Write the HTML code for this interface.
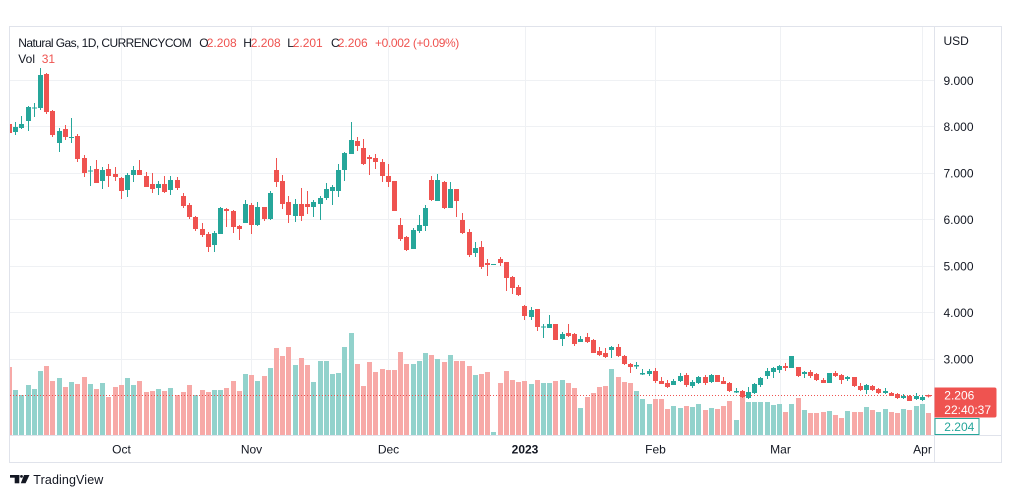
<!DOCTYPE html>
<html><head><meta charset="utf-8"><style>
html,body{margin:0;padding:0;background:#fff;width:1012px;height:498px;overflow:hidden}
svg{display:block}
text{font-family:"Liberation Sans",sans-serif}
</style></head><body>
<svg width="1012" height="498" viewBox="0 0 1012 498" xmlns="http://www.w3.org/2000/svg">
<defs><clipPath id="cp"><rect x="10" y="27" width="924" height="408"/></clipPath></defs>
<rect x="0" y="0" width="1012" height="498" fill="#fff"/>
<g stroke="#eff1f4" stroke-width="1">
<line x1="121.5" y1="27" x2="121.5" y2="435"/><line x1="251.5" y1="27" x2="251.5" y2="435"/><line x1="388.5" y1="27" x2="388.5" y2="435"/><line x1="525.5" y1="27" x2="525.5" y2="435"/><line x1="655.5" y1="27" x2="655.5" y2="435"/><line x1="780.5" y1="27" x2="780.5" y2="435"/><line x1="922.5" y1="27" x2="922.5" y2="435"/>
<line x1="10" y1="80.5" x2="934" y2="80.5"/><line x1="10" y1="126.5" x2="934" y2="126.5"/><line x1="10" y1="173.5" x2="934" y2="173.5"/><line x1="10" y1="219.5" x2="934" y2="219.5"/><line x1="10" y1="266.5" x2="934" y2="266.5"/><line x1="10" y1="312.5" x2="934" y2="312.5"/><line x1="10" y1="359.5" x2="934" y2="359.5"/>
</g>
<g clip-path="url(#cp)">
<g fill="#92d2cc">
<rect x="13" y="390" width="5" height="45"/><rect x="19" y="395" width="5" height="40"/><rect x="26" y="385" width="5" height="50"/><rect x="32" y="389" width="5" height="46"/><rect x="38" y="371" width="5" height="64"/><rect x="57" y="378" width="5" height="57"/><rect x="69" y="382" width="5" height="53"/><rect x="88" y="384" width="5" height="51"/><rect x="100" y="383" width="5" height="52"/><rect x="125" y="378" width="5" height="57"/><rect x="131" y="385" width="5" height="50"/><rect x="156" y="389" width="5" height="46"/><rect x="168" y="388" width="5" height="47"/><rect x="193" y="395" width="5" height="40"/><rect x="212" y="390" width="5" height="45"/><rect x="218" y="390" width="5" height="45"/><rect x="243" y="374" width="5" height="61"/><rect x="255" y="381" width="5" height="54"/><rect x="268" y="368" width="5" height="67"/><rect x="293" y="365" width="5" height="70"/><rect x="311" y="382" width="5" height="53"/><rect x="318" y="361" width="5" height="74"/><rect x="324" y="361" width="5" height="74"/><rect x="330" y="374" width="5" height="61"/><rect x="336" y="373" width="5" height="62"/><rect x="342" y="347" width="5" height="88"/><rect x="349" y="333" width="5" height="102"/><rect x="411" y="364" width="5" height="71"/><rect x="417" y="361" width="5" height="74"/><rect x="423" y="353" width="5" height="82"/><rect x="435" y="359" width="5" height="76"/><rect x="448" y="355" width="5" height="80"/><rect x="473" y="375" width="5" height="60"/><rect x="491" y="432" width="5" height="3"/><rect x="529" y="384" width="5" height="51"/><rect x="541" y="383" width="5" height="52"/><rect x="547" y="383" width="5" height="52"/><rect x="560" y="380" width="5" height="55"/><rect x="578" y="408" width="5" height="27"/><rect x="609" y="369" width="5" height="66"/><rect x="634" y="391" width="5" height="44"/><rect x="640" y="399" width="5" height="36"/><rect x="647" y="404" width="5" height="31"/><rect x="671" y="406" width="5" height="29"/><rect x="678" y="408" width="5" height="27"/><rect x="690" y="407" width="5" height="28"/><rect x="696" y="404" width="5" height="31"/><rect x="709" y="408" width="5" height="27"/><rect x="734" y="420" width="5" height="15"/><rect x="746" y="402" width="5" height="33"/><rect x="752" y="402" width="5" height="33"/><rect x="758" y="402" width="5" height="33"/><rect x="765" y="402" width="5" height="33"/><rect x="771" y="405" width="5" height="30"/><rect x="777" y="404" width="5" height="31"/><rect x="789" y="404" width="5" height="31"/><rect x="802" y="410" width="5" height="25"/><rect x="827" y="411" width="5" height="24"/><rect x="845" y="411" width="5" height="24"/><rect x="864" y="407" width="5" height="28"/><rect x="876" y="412" width="5" height="23"/><rect x="883" y="409" width="5" height="26"/><rect x="901" y="409" width="5" height="26"/><rect x="914" y="406" width="5" height="29"/><rect x="920" y="404" width="5" height="31"/>
</g>
<g fill="#f7a9a7">
<rect x="7" y="367" width="5" height="68"/><rect x="44" y="366" width="5" height="69"/><rect x="50" y="381" width="5" height="54"/><rect x="63" y="387" width="5" height="48"/><rect x="75" y="384" width="5" height="51"/><rect x="82" y="377" width="5" height="58"/><rect x="94" y="389" width="5" height="46"/><rect x="106" y="397" width="5" height="38"/><rect x="113" y="387" width="5" height="48"/><rect x="119" y="385" width="5" height="50"/><rect x="137" y="381" width="5" height="54"/><rect x="144" y="392" width="5" height="43"/><rect x="150" y="391" width="5" height="44"/><rect x="162" y="391" width="5" height="44"/><rect x="175" y="395" width="5" height="40"/><rect x="181" y="392" width="5" height="43"/><rect x="187" y="385" width="5" height="50"/><rect x="200" y="390" width="5" height="45"/><rect x="206" y="392" width="5" height="43"/><rect x="224" y="388" width="5" height="47"/><rect x="231" y="381" width="5" height="54"/><rect x="237" y="391" width="5" height="44"/><rect x="249" y="375" width="5" height="60"/><rect x="262" y="376" width="5" height="59"/><rect x="274" y="348" width="5" height="87"/><rect x="280" y="356" width="5" height="79"/><rect x="286" y="347" width="5" height="88"/><rect x="299" y="358" width="5" height="77"/><rect x="305" y="365" width="5" height="70"/><rect x="355" y="364" width="5" height="71"/><rect x="361" y="386" width="5" height="49"/><rect x="367" y="362" width="5" height="73"/><rect x="373" y="372" width="5" height="63"/><rect x="380" y="369" width="5" height="66"/><rect x="386" y="370" width="5" height="65"/><rect x="392" y="370" width="5" height="65"/><rect x="398" y="352" width="5" height="83"/><rect x="404" y="364" width="5" height="71"/><rect x="429" y="355" width="5" height="80"/><rect x="442" y="362" width="5" height="73"/><rect x="454" y="361" width="5" height="74"/><rect x="460" y="361" width="5" height="74"/><rect x="467" y="366" width="5" height="69"/><rect x="479" y="374" width="5" height="61"/><rect x="485" y="372" width="5" height="63"/><rect x="498" y="383" width="5" height="52"/><rect x="504" y="371" width="5" height="64"/><rect x="510" y="380" width="5" height="55"/><rect x="516" y="382" width="5" height="53"/><rect x="522" y="381" width="5" height="54"/><rect x="535" y="380" width="5" height="55"/><rect x="553" y="381" width="5" height="54"/><rect x="566" y="383" width="5" height="52"/><rect x="572" y="388" width="5" height="47"/><rect x="585" y="397" width="5" height="38"/><rect x="591" y="393" width="5" height="42"/><rect x="597" y="387" width="5" height="48"/><rect x="603" y="386" width="5" height="49"/><rect x="616" y="377" width="5" height="58"/><rect x="622" y="382" width="5" height="53"/><rect x="628" y="383" width="5" height="52"/><rect x="653" y="399" width="5" height="36"/><rect x="659" y="399" width="5" height="36"/><rect x="665" y="409" width="5" height="26"/><rect x="684" y="406" width="5" height="29"/><rect x="703" y="410" width="5" height="25"/><rect x="715" y="409" width="5" height="26"/><rect x="721" y="406" width="5" height="29"/><rect x="727" y="401" width="5" height="34"/><rect x="740" y="396" width="5" height="39"/><rect x="783" y="412" width="5" height="23"/><rect x="796" y="398" width="5" height="37"/><rect x="808" y="413" width="5" height="22"/><rect x="814" y="413" width="5" height="22"/><rect x="821" y="412" width="5" height="23"/><rect x="833" y="415" width="5" height="20"/><rect x="839" y="418" width="5" height="17"/><rect x="852" y="412" width="5" height="23"/><rect x="858" y="412" width="5" height="23"/><rect x="870" y="410" width="5" height="25"/><rect x="889" y="412" width="5" height="23"/><rect x="895" y="413" width="5" height="22"/><rect x="907" y="410" width="5" height="25"/><rect x="926" y="413" width="5" height="22"/>
</g>
<line x1="10" y1="395.5" x2="934" y2="395.5" stroke="#ef5350" stroke-width="1" stroke-dasharray="1 2"/>
<g fill="#26a69a">
<rect x="15" y="122" width="1" height="13"/><rect x="13" y="127" width="5" height="5"/>
<rect x="21" y="116" width="1" height="13"/><rect x="19" y="124" width="5" height="4"/>
<rect x="28" y="106" width="1" height="25"/><rect x="26" y="107" width="5" height="14"/>
<rect x="34" y="103" width="1" height="14"/><rect x="32" y="107.5" width="5" height="1"/>
<rect x="40" y="68" width="1" height="42"/><rect x="38" y="75" width="5" height="33"/>
<rect x="59" y="128" width="1" height="24"/><rect x="57" y="131" width="5" height="12"/>
<rect x="71" y="118" width="1" height="25"/><rect x="69" y="137" width="5" height="1"/>
<rect x="90" y="166" width="1" height="20"/><rect x="88" y="170.5" width="5" height="1"/>
<rect x="102" y="167" width="1" height="22"/><rect x="100" y="170" width="5" height="11"/>
<rect x="127" y="173" width="1" height="24"/><rect x="125" y="175" width="5" height="15"/>
<rect x="133" y="166" width="1" height="16"/><rect x="131" y="170" width="5" height="5"/>
<rect x="158" y="181" width="1" height="14"/><rect x="156" y="184" width="5" height="4"/>
<rect x="170" y="176" width="1" height="19"/><rect x="168" y="180" width="5" height="10"/>
<rect x="214" y="231" width="1" height="21"/><rect x="212" y="233" width="5" height="12"/>
<rect x="220" y="207" width="1" height="27"/><rect x="218" y="208" width="5" height="26"/>
<rect x="245" y="200" width="1" height="23"/><rect x="243" y="204" width="5" height="19"/>
<rect x="257" y="202" width="1" height="24"/><rect x="255" y="207" width="5" height="18"/>
<rect x="270" y="191" width="1" height="29"/><rect x="268" y="193" width="5" height="26"/>
<rect x="295" y="199" width="1" height="23"/><rect x="293" y="204" width="5" height="12"/>
<rect x="313" y="200" width="1" height="17"/><rect x="311" y="202" width="5" height="5"/>
<rect x="320" y="196" width="1" height="24"/><rect x="318" y="198" width="5" height="6"/>
<rect x="326" y="183" width="1" height="17"/><rect x="324" y="189" width="5" height="9"/>
<rect x="332" y="185" width="1" height="20"/><rect x="330" y="187" width="5" height="4"/>
<rect x="338" y="164" width="1" height="33"/><rect x="336" y="170" width="5" height="21"/>
<rect x="344" y="152" width="1" height="29"/><rect x="342" y="153" width="5" height="17"/>
<rect x="351" y="122" width="1" height="32"/><rect x="349" y="140" width="5" height="14"/>
<rect x="413" y="228" width="1" height="21"/><rect x="411" y="230" width="5" height="19"/>
<rect x="419" y="215" width="1" height="18"/><rect x="417" y="225" width="5" height="6"/>
<rect x="425" y="205" width="1" height="26"/><rect x="423" y="208" width="5" height="18"/>
<rect x="437" y="174" width="1" height="27"/><rect x="435" y="180" width="5" height="21"/>
<rect x="450" y="182" width="1" height="26"/><rect x="448" y="189" width="5" height="19"/>
<rect x="475" y="242" width="1" height="15"/><rect x="473" y="248" width="5" height="5"/>
<rect x="491" y="264" width="5" height="1"/>
<rect x="531" y="307" width="1" height="13"/><rect x="529" y="310" width="5" height="7"/>
<rect x="543" y="324" width="1" height="14"/><rect x="541" y="326.5" width="5" height="1"/>
<rect x="549" y="315" width="1" height="13"/><rect x="547" y="324" width="5" height="4"/>
<rect x="562" y="332" width="1" height="14"/><rect x="560" y="334" width="5" height="5"/>
<rect x="580" y="336" width="1" height="6"/><rect x="578" y="339" width="5" height="3"/>
<rect x="611" y="346" width="1" height="12"/><rect x="609" y="347" width="5" height="3"/>
<rect x="636" y="362" width="1" height="7"/><rect x="634" y="365" width="5" height="1.5"/>
<rect x="642" y="369" width="1" height="6"/><rect x="640" y="373" width="5" height="1.5"/>
<rect x="649" y="369" width="1" height="7"/><rect x="647" y="371" width="5" height="3"/>
<rect x="673" y="379" width="1" height="6"/><rect x="671" y="381" width="5" height="4"/>
<rect x="680" y="373" width="1" height="9"/><rect x="678" y="376" width="5" height="5"/>
<rect x="692" y="380" width="1" height="8"/><rect x="690" y="382" width="5" height="4"/>
<rect x="698" y="376" width="1" height="8"/><rect x="696" y="377" width="5" height="6"/>
<rect x="711" y="374" width="1" height="9"/><rect x="709" y="375" width="5" height="7"/>
<rect x="736" y="388" width="1" height="5"/><rect x="734" y="391" width="5" height="1.5"/>
<rect x="748" y="387" width="1" height="12"/><rect x="746" y="392" width="5" height="6"/>
<rect x="754" y="383" width="1" height="11"/><rect x="752" y="384" width="5" height="9"/>
<rect x="760" y="377" width="1" height="10"/><rect x="758" y="378" width="5" height="7"/>
<rect x="767" y="368" width="1" height="11"/><rect x="765" y="371" width="5" height="5"/>
<rect x="773" y="367" width="1" height="11"/><rect x="771" y="368" width="5" height="4"/>
<rect x="779" y="365" width="1" height="8"/><rect x="777" y="366" width="5" height="4"/>
<rect x="791" y="356" width="1" height="12"/><rect x="789" y="356" width="5" height="12"/>
<rect x="804" y="371" width="1" height="7"/><rect x="802" y="372" width="5" height="2"/>
<rect x="829" y="373" width="1" height="10"/><rect x="827" y="373" width="5" height="10"/>
<rect x="847" y="376" width="1" height="5"/><rect x="845" y="377" width="5" height="2"/>
<rect x="866" y="384" width="1" height="10"/><rect x="864" y="385" width="5" height="5"/>
<rect x="885" y="388" width="1" height="6"/><rect x="883" y="391" width="5" height="2"/>
<rect x="903" y="394" width="1" height="5"/><rect x="901" y="396" width="5" height="2"/>
<rect x="916" y="393" width="1" height="7"/><rect x="914" y="396" width="5" height="3"/>
<rect x="922" y="395" width="1" height="6"/><rect x="920" y="397" width="5" height="3"/>
</g>
<g fill="#ef5350">
<rect x="9" y="122" width="1" height="12"/><rect x="7" y="124" width="5" height="9"/>
<rect x="46" y="73" width="1" height="41"/><rect x="44" y="74" width="5" height="38"/>
<rect x="52" y="110" width="1" height="27"/><rect x="50" y="111" width="5" height="24"/>
<rect x="65" y="125" width="1" height="15"/><rect x="63" y="129" width="5" height="8"/>
<rect x="77" y="134" width="1" height="28"/><rect x="75" y="136" width="5" height="23"/>
<rect x="84" y="155" width="1" height="22"/><rect x="82" y="158" width="5" height="15"/>
<rect x="96" y="160" width="1" height="23"/><rect x="94" y="169" width="5" height="14"/>
<rect x="108" y="164" width="1" height="23"/><rect x="106" y="169" width="5" height="7"/>
<rect x="115" y="167" width="1" height="14"/><rect x="113" y="174" width="5" height="3"/>
<rect x="121" y="177" width="1" height="22"/><rect x="119" y="178" width="5" height="13"/>
<rect x="139" y="160" width="1" height="15"/><rect x="137" y="170" width="5" height="5"/>
<rect x="146" y="172" width="1" height="15"/><rect x="144" y="176" width="5" height="11"/>
<rect x="152" y="173" width="1" height="20"/><rect x="150" y="184" width="5" height="5"/>
<rect x="164" y="176" width="1" height="17"/><rect x="162" y="184" width="5" height="8"/>
<rect x="177" y="177" width="1" height="13"/><rect x="175" y="180" width="5" height="8"/>
<rect x="183" y="193" width="1" height="15"/><rect x="181" y="196" width="5" height="10"/>
<rect x="189" y="203" width="1" height="16"/><rect x="187" y="205" width="5" height="12"/>
<rect x="195" y="216" width="1" height="15"/><rect x="193" y="217" width="5" height="12"/>
<rect x="202" y="223" width="1" height="14"/><rect x="200" y="229" width="5" height="6"/>
<rect x="208" y="232" width="1" height="20"/><rect x="206" y="234" width="5" height="13"/>
<rect x="226" y="208" width="1" height="19"/><rect x="224" y="209" width="5" height="2"/>
<rect x="233" y="210" width="1" height="23"/><rect x="231" y="211" width="5" height="16"/>
<rect x="239" y="225" width="1" height="15"/><rect x="237" y="226" width="5" height="3"/>
<rect x="251" y="203" width="1" height="31"/><rect x="249" y="205" width="5" height="20"/>
<rect x="264" y="207" width="1" height="14"/><rect x="262" y="207" width="5" height="12"/>
<rect x="276" y="158" width="1" height="29"/><rect x="274" y="170" width="5" height="12"/>
<rect x="282" y="175" width="1" height="34"/><rect x="280" y="181" width="5" height="23"/>
<rect x="288" y="196" width="1" height="27"/><rect x="286" y="202" width="5" height="13"/>
<rect x="301" y="188" width="1" height="33"/><rect x="299" y="204" width="5" height="12"/>
<rect x="307" y="191" width="1" height="23"/><rect x="305" y="204" width="5" height="3"/>
<rect x="357" y="137" width="1" height="14"/><rect x="355" y="141" width="5" height="5"/>
<rect x="363" y="139" width="1" height="26"/><rect x="361" y="148" width="5" height="16"/>
<rect x="369" y="155" width="1" height="20"/><rect x="367" y="157" width="5" height="2"/>
<rect x="375" y="154" width="1" height="15"/><rect x="373" y="158" width="5" height="4"/>
<rect x="382" y="159" width="1" height="23"/><rect x="380" y="162" width="5" height="14"/>
<rect x="388" y="164" width="1" height="23"/><rect x="386" y="176" width="5" height="6"/>
<rect x="394" y="181" width="1" height="30"/><rect x="392" y="181" width="5" height="30"/>
<rect x="400" y="218" width="1" height="23"/><rect x="398" y="225" width="5" height="14"/>
<rect x="406" y="236" width="1" height="15"/><rect x="404" y="237" width="5" height="13"/>
<rect x="431" y="176" width="1" height="25"/><rect x="429" y="180" width="5" height="20"/>
<rect x="444" y="181" width="1" height="28"/><rect x="442" y="182" width="5" height="26"/>
<rect x="456" y="189" width="1" height="28"/><rect x="454" y="189" width="5" height="12"/>
<rect x="462" y="213" width="1" height="21"/><rect x="460" y="220" width="5" height="13"/>
<rect x="469" y="229" width="1" height="28"/><rect x="467" y="232" width="5" height="23"/>
<rect x="481" y="241" width="1" height="28"/><rect x="479" y="247" width="5" height="20"/>
<rect x="487" y="259" width="1" height="17"/><rect x="485" y="263" width="5" height="2"/>
<rect x="500" y="257" width="1" height="9"/><rect x="498" y="259" width="5" height="4"/>
<rect x="506" y="262" width="1" height="29"/><rect x="504" y="262" width="5" height="16"/>
<rect x="512" y="276" width="1" height="18"/><rect x="510" y="277" width="5" height="11"/>
<rect x="518" y="285" width="1" height="11"/><rect x="516" y="287" width="5" height="8"/>
<rect x="524" y="305" width="1" height="15"/><rect x="522" y="306" width="5" height="10"/>
<rect x="537" y="309" width="1" height="22"/><rect x="535" y="309" width="5" height="18"/>
<rect x="555" y="324" width="1" height="16"/><rect x="553" y="324" width="5" height="16"/>
<rect x="568" y="324" width="1" height="13"/><rect x="566" y="333" width="5" height="3"/>
<rect x="574" y="333" width="1" height="13"/><rect x="572" y="334" width="5" height="10"/>
<rect x="587" y="333" width="1" height="10"/><rect x="585" y="337" width="5" height="5"/>
<rect x="593" y="339" width="1" height="14"/><rect x="591" y="340" width="5" height="13"/>
<rect x="599" y="347" width="1" height="9"/><rect x="597" y="351" width="5" height="4"/>
<rect x="605" y="348" width="1" height="10"/><rect x="603" y="353" width="5" height="4"/>
<rect x="618" y="344" width="1" height="13"/><rect x="616" y="347" width="5" height="9"/>
<rect x="624" y="355" width="1" height="10"/><rect x="622" y="356" width="5" height="8"/>
<rect x="630" y="363" width="1" height="10"/><rect x="628" y="364" width="5" height="3"/>
<rect x="655" y="368" width="1" height="15"/><rect x="653" y="371" width="5" height="10"/>
<rect x="661" y="377" width="1" height="7"/><rect x="659" y="381" width="5" height="3"/>
<rect x="667" y="380" width="1" height="8"/><rect x="665" y="383" width="5" height="4"/>
<rect x="686" y="373" width="1" height="14"/><rect x="684" y="375" width="5" height="10"/>
<rect x="705" y="375" width="1" height="10"/><rect x="703" y="377" width="5" height="6"/>
<rect x="717" y="375" width="1" height="7"/><rect x="715" y="375" width="5" height="7"/>
<rect x="723" y="377" width="1" height="7"/><rect x="721" y="381" width="5" height="3"/>
<rect x="729" y="382" width="1" height="10"/><rect x="727" y="383" width="5" height="8"/>
<rect x="742" y="390" width="1" height="8"/><rect x="740" y="391" width="5" height="6"/>
<rect x="785" y="363" width="1" height="8"/><rect x="783" y="366" width="5" height="2"/>
<rect x="798" y="367" width="1" height="10"/><rect x="796" y="367" width="5" height="9"/>
<rect x="810" y="370" width="1" height="8"/><rect x="808" y="372" width="5" height="4"/>
<rect x="816" y="373" width="1" height="8"/><rect x="814" y="374" width="5" height="6"/>
<rect x="823" y="378" width="1" height="5"/><rect x="821" y="380" width="5" height="3"/>
<rect x="835" y="371" width="1" height="6"/><rect x="833" y="373" width="5" height="3"/>
<rect x="841" y="374" width="1" height="10"/><rect x="839" y="375" width="5" height="5"/>
<rect x="854" y="377" width="1" height="10"/><rect x="852" y="377" width="5" height="9"/>
<rect x="860" y="383" width="1" height="8"/><rect x="858" y="386" width="5" height="4"/>
<rect x="872" y="385" width="1" height="6"/><rect x="870" y="386" width="5" height="4"/>
<rect x="878" y="388" width="1" height="6"/><rect x="876" y="389" width="5" height="4"/>
<rect x="891" y="392" width="1" height="4"/><rect x="889" y="393" width="5" height="3"/>
<rect x="897" y="393" width="1" height="6"/><rect x="895" y="394" width="5" height="4"/>
<rect x="909" y="395" width="1" height="6"/><rect x="907" y="396" width="5" height="5"/>
<rect x="928" y="394.5" width="1" height="3"/><rect x="926" y="395" width="5" height="1.5"/>
</g>
</g>
<g stroke="#e0e3eb" stroke-width="1" fill="none">
<rect x="9.5" y="26.5" width="992" height="436"/>
<line x1="934.5" y1="27" x2="934.5" y2="462"/>
<line x1="10" y1="435.5" x2="1001" y2="435.5"/>
</g>
<text x="18.3" y="46.8" font-size="12" fill="#131722" textLength="173.4">Natural Gas, 1D, CURRENCYCOM</text>
<text x="199.3" y="46.8" font-size="12" fill="#131722">O</text>
<text x="206.7" y="46.8" font-size="12" fill="#ef5350">2.208</text>
<text x="243.3" y="46.8" font-size="12" fill="#131722">H</text>
<text x="250.7" y="46.8" font-size="12" fill="#ef5350">2.208</text>
<text x="287.3" y="46.8" font-size="12" fill="#131722">L</text>
<text x="292.7" y="46.8" font-size="12" fill="#ef5350">2.201</text>
<text x="331" y="46.8" font-size="12" fill="#131722">C</text>
<text x="337.7" y="46.8" font-size="12" fill="#ef5350">2.206</text>
<text x="375" y="46.8" font-size="12" fill="#ef5350" textLength="84.3">+0.002 (+0.09%)</text>
<text x="18.3" y="63.2" font-size="12" fill="#131722">Vol</text>
<text x="41.7" y="63.2" font-size="12" fill="#ef5350">31</text>
<g font-size="12" fill="#131722">
<text x="943.5" y="45">USD</text>
<text x="943.5" y="84.8">9.000</text>
<text x="943.5" y="131">8.000</text>
<text x="943.5" y="177.5">7.000</text>
<text x="943.5" y="224">6.000</text>
<text x="943.5" y="270.5">5.000</text>
<text x="943.5" y="317">4.000</text>
<text x="943.5" y="363.3">3.000</text>
</g>
<path d="M934.5 387.5 H994.5 a2 2 0 0 1 2 2 V415.5 a2 2 0 0 1 -2 2 H934.5 Z" fill="#ef5350"/>
<text x="944.3" y="399.3" font-size="12" fill="#fff">2.206</text>
<text x="944.3" y="414" font-size="12" fill="#fff">22:40:37</text>
<rect x="935" y="418.5" width="44" height="16" fill="#fff" stroke="#26a69a" stroke-width="1"/>
<text x="944.3" y="431" font-size="12" fill="#26a69a">2.204</text>
<g font-size="12" fill="#131722" text-anchor="middle">
<text x="121.5" y="453.5">Oct</text>
<text x="251.5" y="453.5">Nov</text>
<text x="388.5" y="453.5">Dec</text>
<text x="525" y="453.5" font-weight="bold">2023</text>
<text x="655.5" y="453.5">Feb</text>
<text x="780.5" y="453.5">Mar</text>
<text x="922.5" y="453.5">Apr</text>
</g>
<g fill="#131722">
<rect x="10" y="475" width="9.3" height="2.7"/>
<rect x="14.7" y="475" width="4.6" height="8.3"/>
<circle cx="21.5" cy="476.4" r="1.4"/>
<polygon points="24,475 29.5,475 25.6,483.3 20.8,483.3"/>
</g>
<text x="33.3" y="484" font-size="12.5" fill="#131722" textLength="70">TradingView</text>
</svg>
</body></html>
